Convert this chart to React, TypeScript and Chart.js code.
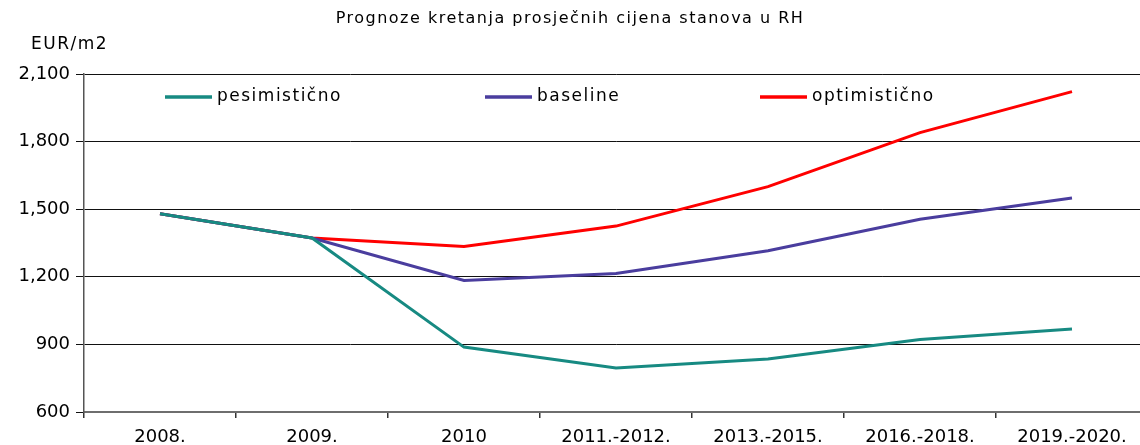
import React, { useEffect, useRef } from "react";
import { Chart, registerables } from "chart.js";

Chart.register(...registerables);

const categories = ["2008.", "2009.", "2010", "2011.-2012.", "2013.-2015.", "2016.-2018.", "2019.-2020."];
const pesimisticno = [1480, 1372, 888, 795, 835, 922, 968];
const baseline = [1480, 1372, 1184, 1215, 1316, 1455, 1550];
const optimisticno = [1480, 1372, 1335, 1425, 1600, 1840, 2022];
const seriesNames = ["pesimistično", "baseline", "optimistično"];
const seriesColors = ["#178a82", "#4a3d9e", "#ff0000"];
const yTicks = [600, 900, 1200, 1500, 1800, 2100];
const chartTitle = "Prognoze kretanja prosječnih cijena stanova u RH";
const yTitle = "EUR/m2";

const FONT = "'DejaVu Sans', sans-serif";

const overlay = {
  id: "overlay",
  afterDraw(chart: any) {
    const ctx = chart.ctx;
    const area = chart.chartArea;
    ctx.save();
    ctx.fillStyle = "#000";
    ctx.textBaseline = "middle";
    ctx.font = "16px " + FONT;
    ctx.textAlign = "center";
    (ctx as any).letterSpacing = "1.5px";
    ctx.fillText(chartTitle, 570, 19);
    ctx.font = "17px " + FONT;
    ctx.textAlign = "left";
    ctx.fillText(yTitle, 31, 45);
    // legend
    const legendX = [165, 485, 760];
    const ly = area.top + 23;
    ctx.font = "17px " + FONT;
    for (let i = 0; i < 3; i++) {
      ctx.strokeStyle = seriesColors[i];
      ctx.lineWidth = 3.5;
      ctx.beginPath();
      ctx.moveTo(legendX[i], ly);
      ctx.lineTo(legendX[i] + 47, ly);
      ctx.stroke();
      ctx.fillStyle = "#000";
      ctx.fillText(seriesNames[i], legendX[i] + 52, ly);
    }
    ctx.restore();
  },
};

export default function App() {
  const ref = useRef<HTMLCanvasElement>(null);
  useEffect(() => {
    const chart = new Chart(ref.current!, {
      type: "line",
      data: {
        labels: categories,
        datasets: [pesimisticno, baseline, optimisticno].map((d, i) => ({
          label: seriesNames[i],
          data: d,
          borderColor: seriesColors[i],
          backgroundColor: seriesColors[i],
          borderWidth: 3,
          pointRadius: 0,
          tension: 0,
        })),
      },
      options: {
        animation: false,
        responsive: false,
        maintainAspectRatio: false,
        layout: { padding: { top: 74, right: 12, left: 0, bottom: 0 } },
        plugins: { legend: { display: false }, title: { display: false }, tooltip: { enabled: false } },
        scales: {
          x: {
            type: "category",
            offset: true,
            grid: { offset: true, drawOnChartArea: false, drawTicks: true, tickLength: 6, color: "#333", lineWidth: 1.5 },
            border: { color: "#6e6e6e", width: 2 },
            ticks: { color: "#000", font: { family: FONT, size: 18 }, padding: 9, maxRotation: 0, autoSkip: false },
            afterFit(scale: any) {
              scale.height = 33;
            },
          },
          y: {
            min: 600,
            max: 2100,
            afterBuildTicks(scale: any) {
              scale.ticks = yTicks.map((v) => ({ value: v }));
            },
            grid: { color: "#111", lineWidth: 1, tickLength: 8, drawTicks: true },
            border: { color: "#555", width: 1.5 },
            ticks: {
              color: "#000",
              font: { family: FONT, size: 18 },
              padding: 6,
              callback: (v: any) => Number(v).toLocaleString("en-US"),
            },
            afterFit(scale: any) {
              scale.width = 84;
            },
          },
        },
      },
      plugins: [overlay],
    });
    return () => chart.destroy();
  }, []);
  return (
    <div style={{ position: "fixed", left: 0, top: 0, width: 1140, height: 445, overflow: "hidden", background: "#fff" }}>
      <canvas ref={ref} width={1160} height={445} style={{ display: "block" }} />
    </div>
  );
}
